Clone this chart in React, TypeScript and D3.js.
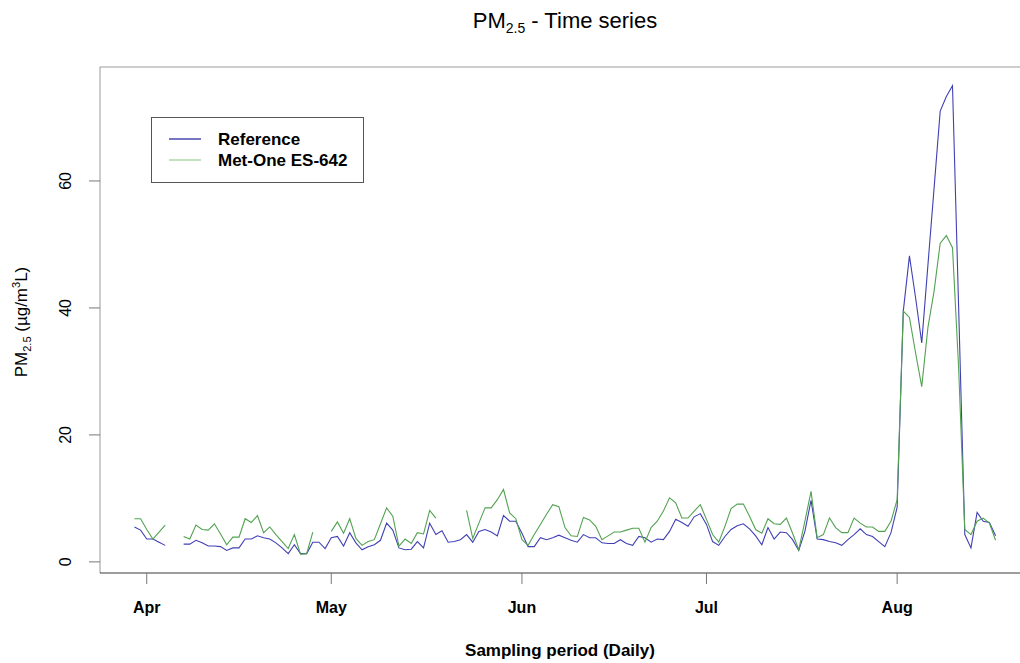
import React from "react";
import * as d3 from "d3";

// Daily PM2.5 concentrations (µg/m³), 30 Mar → 17 Aug; null = no sample
const startDay = new Date(2013, 2, 30);

const reference: (number | null)[] = [
  5.5, 5.0, 3.6, 3.6, 3.1, 2.6, null, null, 2.8, 2.8,
  3.4, 3.0, 2.5, 2.5, 2.4, 1.8, 2.2, 2.2, 3.6, 3.6,
  4.1, 3.8, 3.6, 3.0, 2.2, 1.3, 2.7, 1.3, 1.3, 3.1,
  3.1, 2.1, 3.8, 4.0, 2.5, 4.6, 3.0, 1.9, 2.4, 2.7,
  3.4, 6.1, 5.0, 2.2, 1.9, 2.0, 3.2, 2.2, 6.1, 4.3,
  4.9, 3.1, 3.2, 3.5, 4.3, 3.1, 4.8, 5.1, 4.7, 4.1,
  7.3, 6.4, 6.4, 4.5, 2.4, 2.4, 3.8, 3.5, 3.8, 4.2,
  3.8, 3.4, 3.1, 4.3, 3.8, 3.8, 3.0, 2.9, 2.9, 3.5,
  2.9, 2.6, 4.0, 3.8, 3.1, 3.6, 3.5, 4.8, 6.7, 6.2,
  5.6, 7.1, 7.6, 5.9, 3.2, 2.6, 4.0, 5.1, 5.7, 6.0,
  5.2, 4.1, 2.7, 5.4, 3.6, 4.7, 4.6, 3.5, 1.8, 4.8,
  9.7, 3.6, 3.5, 3.2, 3.0, 2.6, 3.5, 4.3, 5.2, 4.3,
  4.0, 3.2, 2.4, 4.6, 8.6, 39.5, 48.2, 41.6, 34.5, 46.7,
  58.8, 71.0, 73.3, 75.0, 40.0, 4.3, 2.2, 7.8, 6.4, 6.2,
  4.1,
];

const metOne: (number | null)[] = [
  6.8, 6.8, 5.1, 3.6, 4.7, 5.8, null, null, 4.0, 3.6,
  5.8, 5.1, 5.0, 6.0, 4.4, 2.7, 3.9, 3.9, 6.8, 6.2,
  7.3, 4.6, 5.5, 4.3, 3.2, 2.1, 4.3, 1.2, 1.3, 4.7,
  null, null, 4.8, 6.3, 4.5, 6.8, 3.7, 2.6, 3.2, 3.5,
  6.0, 8.5, 7.2, 2.5, 3.6, 2.9, 4.6, 4.4, 8.1, 6.9,
  null, null, null, null, 8.1, 3.7, 6.1, 8.5, 8.5, 9.8,
  11.4, 7.7, 6.8, 3.5, 2.6, 4.3, 5.9, 7.5, 9.0, 8.7,
  5.4, 4.1, 4.0, 7.0, 6.6, 5.6, 3.5, 4.1, 4.7, 4.7,
  5.0, 5.3, 5.3, 3.1, 5.4, 6.4, 8.0, 10.1, 9.3, 6.9,
  6.9, 8.0, 9.0, 6.7, 4.3, 3.1, 5.6, 8.4, 9.1, 9.1,
  7.2, 5.1, 4.5, 6.8, 6.0, 5.9, 6.9, 4.5, 1.9, 6.4,
  11.1, 3.8, 4.3, 6.9, 5.4, 4.6, 4.6, 6.9, 6.1, 5.5,
  5.5, 4.8, 4.8, 6.4, 9.8, 39.5, 38.5, 32.9, 27.6, 36.9,
  42.6, 50.2, 51.4, 49.5, 30.5, 5.1, 4.3, 6.4, 6.9, 6.1,
  3.4,
];

const seriesNames = ["Reference", "Met-One ES-642"];
const seriesColors = ["#4040b4", "#52a252"];
const legendColors = ["#1c1c9c", "#9ad09a"];
const yTicks = [0, 20, 40, 60];
const monthTicks = [
  new Date(2013, 3, 1),
  new Date(2013, 4, 1),
  new Date(2013, 5, 1),
  new Date(2013, 6, 1),
  new Date(2013, 7, 1),
];

const W = 1020;
const H = 663;
const plot = { left: 100, right: 1030, top: 67, bottom: 573 };
const font = "'Liberation Sans', Arial, sans-serif";

export default function App() {
  const dates = reference.map((_, i) => d3.timeDay.offset(startDay, i));

  // 4% padding on each side of the data range
  const [d0, d1] = d3.extent(dates) as [Date, Date];
  const span = d1.getTime() - d0.getTime();
  const x = d3
    .scaleTime()
    .domain([new Date(d0.getTime() - span * 0.04), new Date(d1.getTime() + span * 0.04)])
    .range([plot.left, plot.right]);

  const all = [...reference, ...metOne].filter((v) => v != null) as number[];
  const [v0, v1] = d3.extent(all) as [number, number];
  const vr = v1 - v0;
  const y = d3
    .scaleLinear()
    .domain([v0 - vr * 0.04, v1 + vr * 0.04])
    .range([plot.bottom, plot.top]);

  const line = d3
    .line<number | null>()
    .defined((v) => v != null)
    .x((_, i) => x(dates[i]))
    .y((v) => y(v as number));

  const fmt = d3.timeFormat("%b");

  return (
    <svg width={W} height={H} style={{ display: "block", position: "absolute", left: 0, top: 0 }} fontFamily={font}>
      <rect width={W} height={H} fill="#ffffff" />

      {/* title */}
      <text x={(plot.left + plot.right) / 2} y={28} textAnchor="middle" fontSize={22} fill="#000">
        PM<tspan fontSize={14} dy={5}>2.5</tspan><tspan dy={-5}> - Time series</tspan>
      </text>

      {/* plot frame */}
      <line x1={plot.left} x2={plot.right} y1={plot.top} y2={plot.top} stroke="#9a9a9a" />
      <line x1={plot.left} x2={plot.left} y1={plot.top} y2={plot.bottom} stroke="#9a9a9a" />
      <line x1={plot.left} x2={plot.right} y1={plot.bottom} y2={plot.bottom} stroke="#3a3a3a" />
      <line x1={plot.right} x2={plot.right} y1={plot.top} y2={plot.bottom} stroke="#9a9a9a" />

      {/* y axis */}
      {yTicks.map((t) => (
        <g key={t}>
          <line x1={plot.left - 11} x2={plot.left} y1={y(t)} y2={y(t)} stroke="#777" />
          <text
            transform={`translate(${71},${y(t)}) rotate(-90)`}
            textAnchor="middle"
            fontSize={16}
            fill="#000"
          >
            {t}
          </text>
        </g>
      ))}
      <text transform={`translate(${27},${322}) rotate(-90)`} textAnchor="middle" fontSize={17} fill="#000">
        PM<tspan fontSize={11} dy={4}>2.5</tspan>
        <tspan dy={-4}> (µg/m</tspan>
        <tspan fontSize={11} dy={-7}>3</tspan>
        <tspan dy={7}>L)</tspan>
      </text>

      {/* x axis */}
      {monthTicks.map((m) => (
        <g key={m.getTime()}>
          <line x1={x(m)} x2={x(m)} y1={plot.bottom} y2={plot.bottom + 11} stroke="#777" />
          <text x={x(m)} y={613} textAnchor="middle" fontSize={16} fontWeight="bold" fill="#000">
            {fmt(m)}
          </text>
        </g>
      ))}
      <text x={(plot.left + plot.right) / 2 - 5} y={656} textAnchor="middle" fontSize={17} fontWeight="bold" fill="#000">
        Sampling period (Daily)
      </text>

      {/* series */}
      <path d={line(reference) ?? ""} fill="none" stroke={seriesColors[0]} strokeWidth={1.1} />
      <path d={line(metOne) ?? ""} fill="none" stroke={seriesColors[1]} strokeWidth={1.1} />

      {/* legend */}
      <rect x={151.5} y={117.5} width={212} height={65} fill="#fff" stroke="#555" />
      {seriesNames.map((name, i) => (
        <g key={name}>
          <line x1={169} x2={201} y1={139 + i * 21} y2={139 + i * 21} stroke={legendColors[i]} strokeWidth={1.2} />
          <text x={218} y={145 + i * 21} fontSize={17} fontWeight="bold" fill="#000">
            {name}
          </text>
        </g>
      ))}
    </svg>
  );
}
